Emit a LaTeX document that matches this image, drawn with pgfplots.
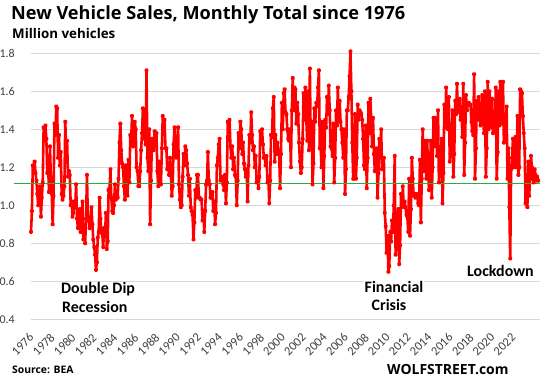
\documentclass[border=0pt]{standalone}
\usepackage{pgfplots}
\pgfplotsset{compat=1.18}
\usepackage{pgfplotstable}
\usepackage{fontspec}
\setmainfont{Carlito}
\newfontfamily\titlefont{Open Sans}
\definecolor{gridgray}{RGB}{217,217,217}
\definecolor{refgreen}{RGB}{50,170,60}
\definecolor{labgray}{RGB}{64,64,64}

\pgfplotstableread[row sep=\\]{
v\\
0.86\\ 0.97\\ 1.21\\ 1.18\\ 1.23\\ 1.17\\ 1.13\\ 1.06\\ 1.00\\ 1.03\\ 1.10\\ 0.94\\
1.04\\ 1.12\\ 1.41\\ 1.34\\ 1.42\\ 1.35\\ 1.17\\ 1.20\\ 1.07\\ 1.31\\ 1.15\\ 1.06\\
0.90\\ 1.05\\ 1.43\\ 1.37\\ 1.52\\ 1.51\\ 1.25\\ 1.37\\ 1.21\\ 1.28\\ 1.06\\ 1.03\\
1.05\\ 1.10\\ 1.44\\ 1.27\\ 1.34\\ 1.15\\ 1.18\\ 1.16\\ 1.00\\ 1.02\\ 0.94\\ 0.96\\
1.02\\ 0.99\\ 1.11\\ 0.93\\ 0.88\\ 0.92\\ 0.98\\ 0.86\\ 0.88\\ 1.02\\ 0.82\\ 0.85\\
0.80\\ 0.93\\ 1.16\\ 0.94\\ 0.92\\ 0.88\\ 0.93\\ 0.99\\ 0.90\\ 0.82\\ 0.78\\ 0.74\\
0.66\\ 0.70\\ 0.83\\ 0.86\\ 1.04\\ 0.93\\ 0.86\\ 0.85\\ 0.78\\ 0.88\\ 0.84\\ 0.96\\
0.77\\ 0.81\\ 1.08\\ 1.09\\ 1.19\\ 1.04\\ 0.97\\ 0.96\\ 1.00\\ 1.11\\ 1.03\\ 1.04\\
1.04\\ 1.14\\ 1.33\\ 1.43\\ 1.29\\ 1.22\\ 1.20\\ 1.10\\ 1.03\\ 1.21\\ 1.16\\ 1.05\\
1.24\\ 1.12\\ 1.37\\ 1.35\\ 1.47\\ 1.31\\ 1.32\\ 1.44\\ 1.40\\ 1.20\\ 1.18\\ 1.10\\
1.10\\ 1.18\\ 1.29\\ 1.38\\ 1.51\\ 1.40\\ 1.35\\ 1.32\\ 1.71\\ 1.25\\ 1.18\\ 1.40\\
0.90\\ 1.13\\ 1.35\\ 1.35\\ 1.29\\ 1.39\\ 1.33\\ 1.38\\ 1.18\\ 1.10\\ 1.23\\ 1.11\\
1.11\\ 1.30\\ 1.47\\ 1.43\\ 1.45\\ 1.30\\ 1.30\\ 1.19\\ 1.21\\ 1.16\\ 1.25\\ 1.16\\
1.05\\ 1.10\\ 1.32\\ 1.41\\ 1.33\\ 1.25\\ 1.30\\ 1.41\\ 1.11\\ 1.03\\ 0.99\\ 1.00\\
1.15\\ 1.27\\ 1.21\\ 1.31\\ 1.29\\ 1.22\\ 1.16\\ 1.05\\ 1.14\\ 0.99\\ 0.97\\ 0.95\\
0.82\\ 0.91\\ 1.08\\ 1.04\\ 1.16\\ 1.16\\ 1.04\\ 1.04\\ 1.03\\ 1.03\\ 0.92\\ 0.97\\
0.86\\ 0.97\\ 1.11\\ 1.13\\ 1.28\\ 1.13\\ 1.11\\ 1.04\\ 1.04\\ 1.07\\ 0.97\\ 1.02\\
0.90\\ 0.96\\ 1.21\\ 1.25\\ 1.32\\ 1.35\\ 1.13\\ 1.15\\ 1.15\\ 1.11\\ 1.08\\ 1.16\\
1.01\\ 1.12\\ 1.44\\ 1.36\\ 1.45\\ 1.31\\ 1.25\\ 1.31\\ 1.19\\ 1.25\\ 1.16\\ 1.15\\
1.00\\ 1.13\\ 1.38\\ 1.30\\ 1.44\\ 1.40\\ 1.27\\ 1.33\\ 1.22\\ 1.19\\ 1.15\\ 1.19\\
1.02\\ 1.21\\ 1.37\\ 1.33\\ 1.49\\ 1.37\\ 1.29\\ 1.31\\ 1.20\\ 1.26\\ 1.12\\ 1.15\\
1.09\\ 1.15\\ 1.39\\ 1.34\\ 1.40\\ 1.32\\ 1.25\\ 1.25\\ 1.21\\ 1.26\\ 1.12\\ 1.14\\
1.01\\ 1.13\\ 1.37\\ 1.36\\ 1.51\\ 1.57\\ 1.23\\ 1.37\\ 1.27\\ 1.33\\ 1.29\\ 1.27\\
1.09\\ 1.27\\ 1.54\\ 1.40\\ 1.59\\ 1.61\\ 1.49\\ 1.48\\ 1.40\\ 1.35\\ 1.34\\ 1.40\\
1.20\\ 1.50\\ 1.67\\ 1.50\\ 1.62\\ 1.61\\ 1.43\\ 1.54\\ 1.48\\ 1.33\\ 1.23\\ 1.17\\
1.20\\ 1.35\\ 1.59\\ 1.45\\ 1.62\\ 1.46\\ 1.34\\ 1.60\\ 1.29\\ 1.72\\ 1.31\\ 1.44\\
1.11\\ 1.22\\ 1.51\\ 1.44\\ 1.54\\ 1.52\\ 1.62\\ 1.71\\ 1.30\\ 1.30\\ 1.20\\ 1.44\\
1.09\\ 1.26\\ 1.45\\ 1.41\\ 1.57\\ 1.48\\ 1.63\\ 1.50\\ 1.31\\ 1.30\\ 1.26\\ 1.43\\
1.12\\ 1.25\\ 1.50\\ 1.42\\ 1.62\\ 1.44\\ 1.55\\ 1.44\\ 1.40\\ 1.33\\ 1.25\\ 1.40\\
1.06\\ 1.19\\ 1.50\\ 1.50\\ 1.57\\ 1.68\\ 1.81\\ 1.60\\ 1.33\\ 1.14\\ 1.14\\ 1.48\\
1.14\\ 1.25\\ 1.53\\ 1.45\\ 1.50\\ 1.49\\ 1.48\\ 1.45\\ 1.35\\ 1.21\\ 1.19\\ 1.42\\
1.09\\ 1.25\\ 1.54\\ 1.38\\ 1.56\\ 1.45\\ 1.31\\ 1.46\\ 1.27\\ 1.18\\ 1.18\\ 1.30\\
1.04\\ 1.17\\ 1.35\\ 1.25\\ 1.40\\ 1.19\\ 1.19\\ 1.25\\ 0.96\\ 0.89\\ 0.75\\ 0.84\\
0.65\\ 0.68\\ 0.86\\ 0.81\\ 0.92\\ 0.86\\ 1.00\\ 1.26\\ 0.74\\ 0.83\\ 0.77\\ 0.98\\
0.69\\ 0.79\\ 1.06\\ 1.00\\ 1.10\\ 0.99\\ 1.02\\ 0.99\\ 0.95\\ 0.94\\ 0.86\\ 1.14\\
0.84\\ 0.98\\ 1.25\\ 1.14\\ 1.05\\ 1.05\\ 1.04\\ 1.06\\ 1.05\\ 1.01\\ 1.00\\ 1.24\\
0.91\\ 1.14\\ 1.40\\ 1.18\\ 1.34\\ 1.28\\ 1.14\\ 1.34\\ 1.19\\ 1.08\\ 1.14\\ 1.34\\
1.04\\ 1.20\\ 1.46\\ 1.31\\ 1.46\\ 1.40\\ 1.26\\ 1.50\\ 1.12\\ 1.20\\ 1.25\\ 1.35\\
1.01\\ 1.17\\ 1.53\\ 1.41\\ 1.62\\ 1.44\\ 1.40\\ 1.57\\ 1.23\\ 1.27\\ 1.26\\ 1.50\\
1.15\\ 1.27\\ 1.55\\ 1.48\\ 1.64\\ 1.49\\ 1.52\\ 1.56\\ 1.45\\ 1.49\\ 1.36\\ 1.64\\
1.16\\ 1.33\\ 1.58\\ 1.50\\ 1.53\\ 1.54\\ 1.53\\ 1.53\\ 1.44\\ 1.39\\ 1.37\\ 1.69\\
1.14\\ 1.30\\ 1.55\\ 1.45\\ 1.57\\ 1.50\\ 1.42\\ 1.50\\ 1.58\\ 1.45\\ 1.38\\ 1.60\\
1.15\\ 1.30\\ 1.65\\ 1.40\\ 1.60\\ 1.53\\ 1.41\\ 1.56\\ 1.38\\ 1.41\\ 1.39\\ 1.62\\
1.14\\ 1.28\\ 1.60\\ 1.42\\ 1.65\\ 1.46\\ 1.43\\ 1.65\\ 1.33\\ 1.37\\ 1.37\\ 1.52\\
1.14\\ 1.30\\ 0.99\\ 0.72\\ 1.19\\ 1.25\\ 1.35\\ 1.20\\ 1.30\\ 1.36\\ 1.20\\ 1.47\\
1.16\\ 1.20\\ 1.61\\ 1.60\\ 1.59\\ 1.47\\ 1.38\\ 1.30\\ 1.01\\ 1.01\\ 0.99\\ 1.23\\
1.05\\ 1.14\\ 1.26\\ 1.20\\ 1.14\\ 1.12\\ 1.19\\ 1.16\\ 1.13\\ 1.15\\ 1.13\\
}\sales

\begin{document}
\begin{tikzpicture}
\useasboundingbox (0,0) rectangle (542bp,381bp);
\begin{axis}[
  at={(31bp,61.7bp)}, anchor=south west,
  scale only axis, width=509bp, height=266bp,
  xmin=1976, xmax=2023, ymin=0.4, ymax=1.8,
  clip=false,
  axis line style={draw=none},
  major tick length=0pt,
  ymajorgrids, grid style={gridgray, line width=0.9pt},
  ytick={0.4,0.6,0.8,1.0,1.2,1.4,1.6,1.8},
  yticklabel style={/pgf/number format/.cd, fixed, fixed zerofill, precision=1, /tikz/.cd,
     anchor=east, inner sep=0pt, xshift=-16bp, font=\fontsize{12}{13}\selectfont, text=labgray},
  /pgf/number format/assume math mode=true,
  xtick={1976,1978,...,2022},
  xticklabels={1976,1978,1980,1982,1984,1986,1988,1990,1992,1994,1996,1998,2000,2002,2004,2006,2008,2010,2012,2014,2016,2018,2020,2022},
  xticklabel style={yshift=-13bp, xshift={-2.5bp-0.70bp*\ticknum}, rotate=45, anchor=north east, inner sep=0pt,
     font=\fontsize{12.5}{13}\selectfont, text=labgray},
]
\addplot[red, line width=2.6pt, line join=round,
  mark=*, mark size=1pt, mark options={draw=none, fill=black!85}]
  table[x expr=1976+\coordindex/12, y=v] {\sales};
\addplot[refgreen, line width=1.1pt, forget plot] coordinates {(1974.45,1.115) (2023,1.115)};
\end{axis}
\node[anchor=base west, inner sep=0pt, font=\titlefont\bfseries\fontsize{18.2}{20}\selectfont] at (11bp,361bp) {New Vehicle Sales, Monthly Total since 1976};
\node[anchor=base west, inner sep=0pt, font=\titlefont\bfseries\fontsize{13.4}{15}\selectfont] at (12bp,342bp) {Million vehicles};
\node[anchor=base west, inner sep=1pt, fill=white, align=left, font=\bfseries\fontsize{16}{18}\selectfont] at (60bp,87bp) {Double Dip};
\node[anchor=base west, inner sep=1pt, align=left, font=\bfseries\fontsize{16}{18}\selectfont] at (61bp,68.5bp) {Recession};
\node[anchor=base, inner sep=1pt, fill=white, font=\bfseries\fontsize{16}{18}\selectfont] at (394bp,88bp) {Financial};
\node[anchor=base, inner sep=1pt, font=\bfseries\fontsize{16}{18}\selectfont] at (389bp,70.3bp) {Crisis};
\node[anchor=base west, inner sep=1pt, font=\bfseries\fontsize{16}{18}\selectfont] at (466bp,104bp) {Lockdown};
\node[anchor=base west, inner sep=0pt, font=\titlefont\bfseries\fontsize{10.4}{12}\selectfont] at (12bp,8bp) {Source: BEA};
\node[anchor=base west, inner sep=0pt, font=\titlefont\bfseries\fontsize{14}{16}\selectfont] at (387bp,7bp) {WOLFSTREET.com};
\end{tikzpicture}
\end{document}
